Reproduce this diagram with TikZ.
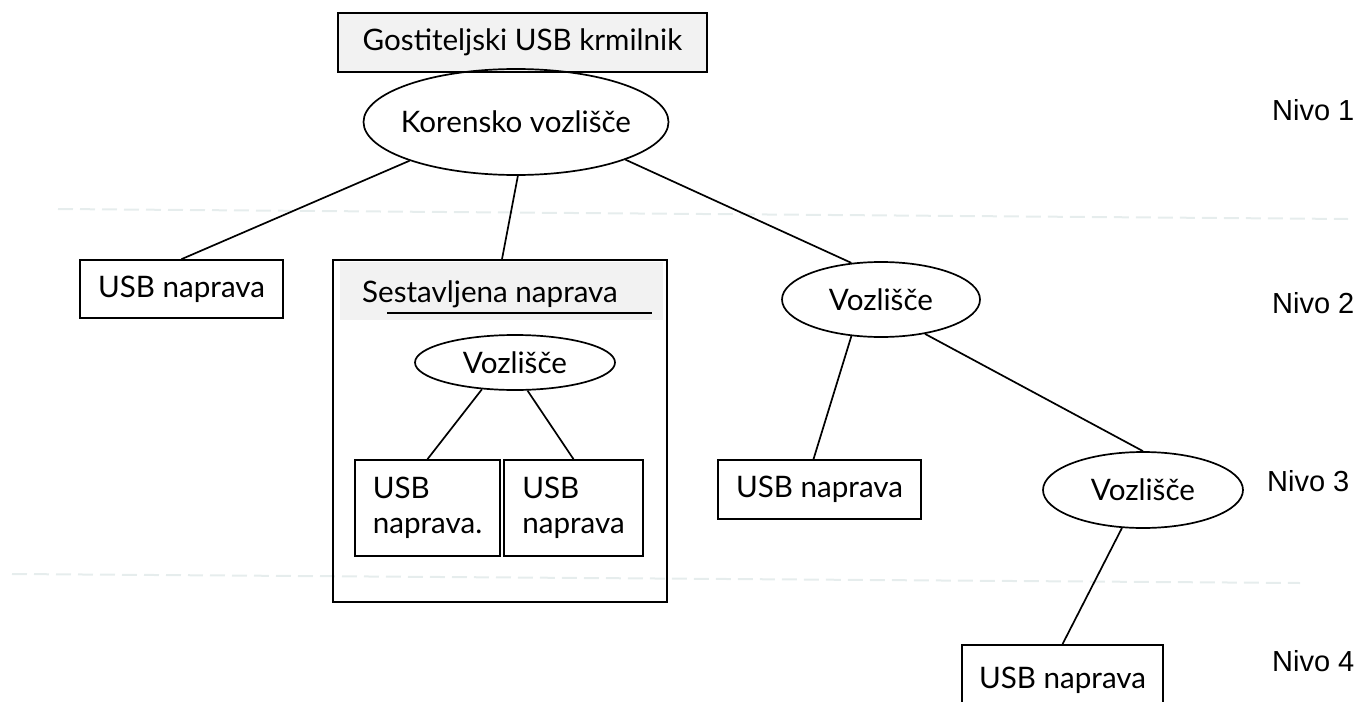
\documentclass[tikz,border=0pt]{standalone}
\usepackage{fontspec}
\setmainfont{Lato}
\newfontfamily\nivofont{Liberation Sans}
\usetikzlibrary{shapes.geometric}
\definecolor{boxgray}{HTML}{F2F2F2}
\definecolor{sepline}{HTML}{E6EDED}

\begin{document}
\begin{tikzpicture}[x=1pt, y=-1pt, line width=1.7pt,
    every node/.style={font=\fontsize{29.6}{35}\selectfont},
    dev/.style={draw, rectangle, inner sep=0pt},
    hub/.style={draw, ellipse, inner sep=0pt},
    nivo/.style={anchor=west, font=\nivofont\fontsize{29}{35}\selectfont},
    sep/.style={sepline, line width=2pt, dash pattern=on 15pt off 7pt}]
    \useasboundingbox (0,0) rectangle (1359,701);
    \clip (0,0) rectangle (1359,701);

    % Level separators
    \draw[sep] (58,209) -- (1348,219);
    \draw[sep] (12,574) -- (1300,583);

    % Host controller and root hub
    \node[dev, fill=boxgray, minimum width=369, minimum height=59] (host) at (522.5,42.5) {Gostiteljski USB krmilnik};
    \node[hub, minimum width=305, minimum height=106, inner xsep=-20pt] (root) at (516,122) {Korensko vozlišče};

    % Level 2
    \node[dev, minimum width=203, minimum height=58] (dev1) at (181.5,289) {USB naprava};
    \node[dev, minimum width=334, minimum height=342] (comp) at (500,431) {};
    \fill[boxgray] (340,262) rectangle (663,320);
    \node[anchor=base west] (comptitle) at (358,302) {Sestavljena naprava};
    \draw (387,313) -- (652,313);
    \node[hub, minimum width=200, minimum height=55] (hub1) at (515,362.5) {Vozlišče};
    \node[dev, align=left, minimum width=145, minimum height=96] (dev2a) at (427.5,508) {USB\\naprava.};
    \node[dev, align=left, minimum width=139, minimum height=96] (dev2b) at (573.5,508) {USB\\naprava};
    \node[hub, minimum width=198, minimum height=75] (hub2) at (881,299.5) {Vozlišče};

    % Level 3
    \node[dev, minimum width=203, minimum height=59] (dev3) at (819.5,489.5) {USB naprava};
    \node[hub, minimum width=200, minimum height=76] (hub3) at (1143,490) {Vozlišče};

    % Level 4
    \node[dev, minimum width=201, minimum height=70] (dev4) at (1062.5,680) {USB naprava};

    % Edges
    \draw (root.-160) -- (dev1.north);
    \draw (root.-88) -- ([xshift=2pt]comp.north);
    \draw (root.-19) -- (hub2.129);
    \draw (hub1.-141) -- (dev2a.north);
    \draw (hub1.-66) -- (dev2b.north);
    \draw (hub2.-129) -- ([xshift=-6pt]dev3.north);
    \draw (hub2.-38) -- (hub3.north);
    \draw (hub3.-119) -- (dev4.north);

    % Labels
    \node[nivo] (nivo1) at (1268,110) {Nivo 1};
    \node[nivo] (nivo2) at (1268,303) {Nivo 2};
    \node[nivo] (nivo3) at (1263,481) {Nivo 3};
    \node[nivo] (nivo4) at (1268,661) {Nivo 4};
\end{tikzpicture}
\end{document}
